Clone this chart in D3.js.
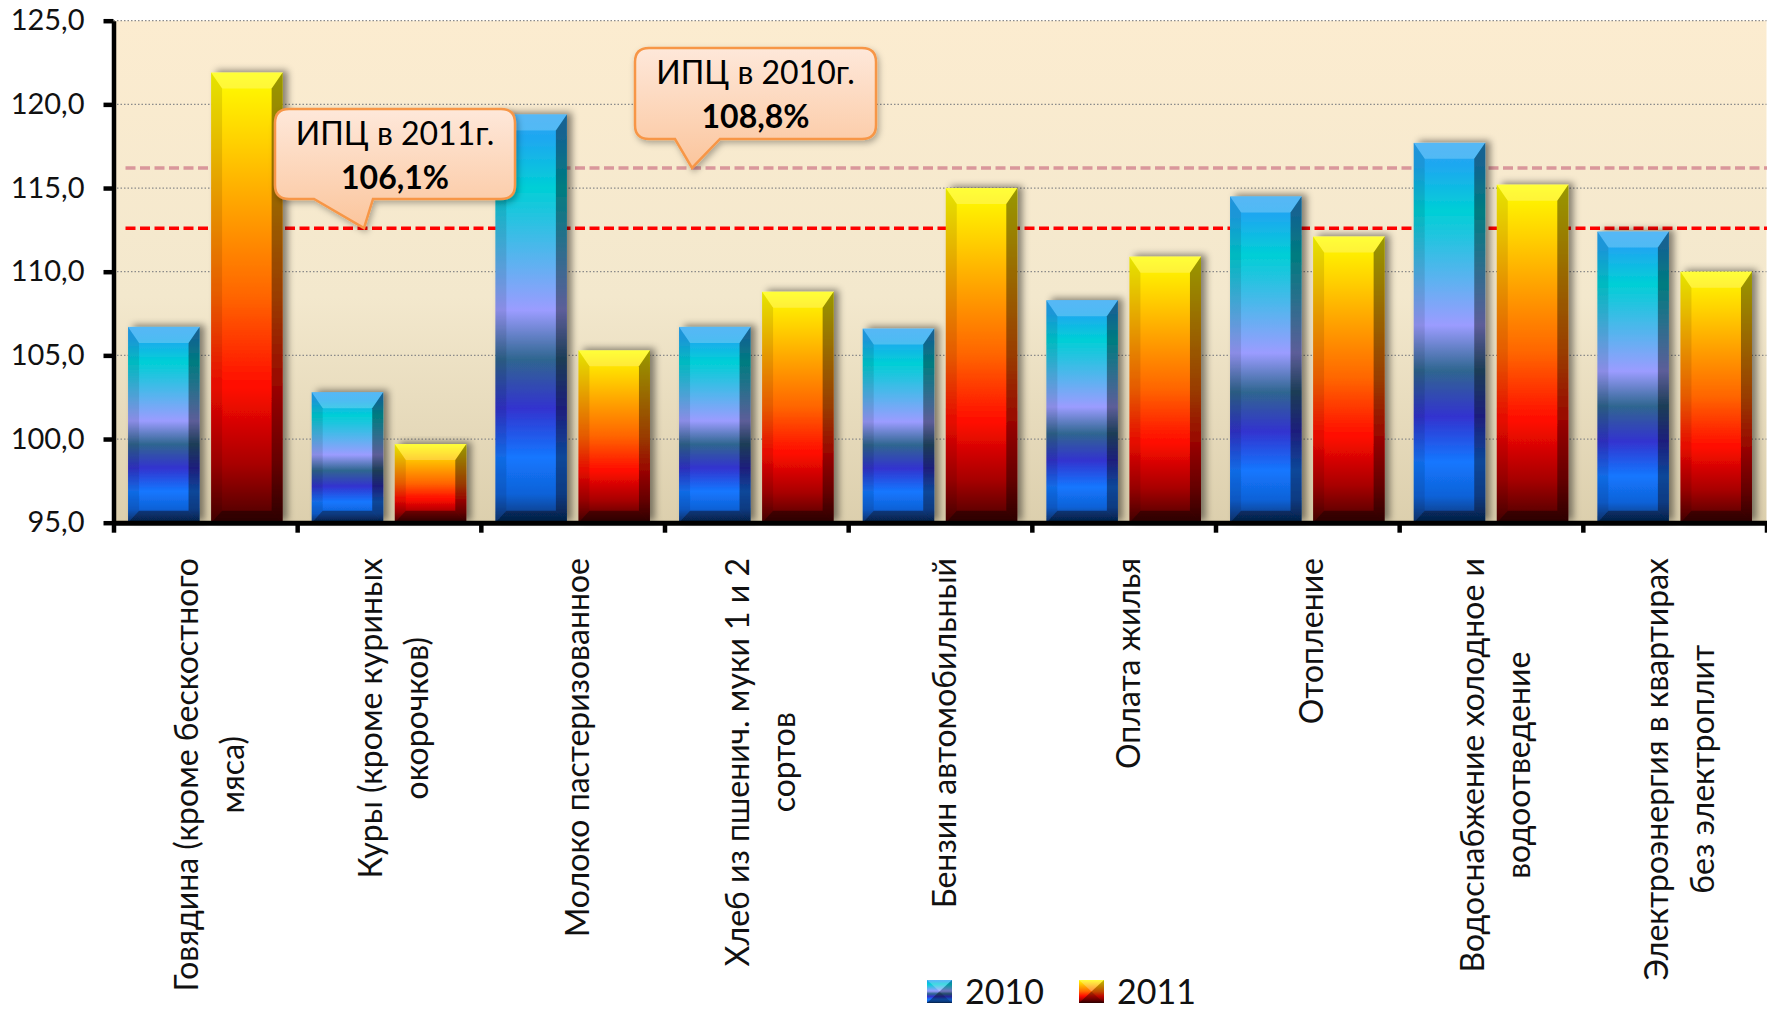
<!DOCTYPE html>
<html>
<head>
<meta charset="utf-8">
<script src="https://cdn.jsdelivr.net/npm/d3@7"></script>
<style>
  body { margin: 0; background: #fff; }
  text { font-family: Lato, "Open Sans", sans-serif; }
</style>
</head>
<body>
<div id="chart"></div>
<script>
// --- data ---
const categories = [
  ["Говядина (кроме бескостного", "мяса)"],
  ["Куры (кроме куриных", "окорочков)"],
  ["Молоко пастеризованное"],
  ["Хлеб из пшенич. муки 1 и 2", "сортов"],
  ["Бензин автомобильный"],
  ["Оплата жилья"],
  ["Отопление"],
  ["Водоснабжение холодное и", "водоотведение"],
  ["Электроэнергия в квартирах", "без электроплит"]
];
const series = ["2010", "2011"];
const values2010 = [106.7, 102.8, 119.4, 106.7, 106.6, 108.3, 114.5, 117.7, 112.4];
const values2011 = [121.9, 99.7, 105.3, 108.8, 115.0, 110.9, 112.1, 115.2, 110.0];
const yTicks = [95, 100, 105, 110, 115, 120, 125];
const refLines = [112.6, 116.2];
const calloutTitles = ["ИПЦ в 2011г.", "ИПЦ в 2010г."];
const calloutValues = ["106,1%", "108,8%"];

// --- layout ---
const width = 1767, height = 1011;
const plot = {left: 113.5, right: 1766.5, top: 20.7, bottom: 522.7};
const refColors = ["#ff0000", "#d9979b"];
const calloutBoxes = [
  {x: 275, y: 109, w: 240, h: 90, base: [314, 373], tipX: 364},
  {x: 635, y: 48, w: 241, h: 91, base: [675, 720], tipX: 692}
];
const legendX = [927, 1079];

const svg = d3.select("#chart").append("svg")
  .attr("width", width)
  .attr("height", height);

const defs = svg.append("defs");

function vGrad(id, stops) {
  const g = defs.append("linearGradient").attr("id", id)
    .attr("x1", 0).attr("y1", 0).attr("x2", 0).attr("y2", 1);
  stops.forEach(s => g.append("stop").attr("offset", s[0]).attr("stop-color", s[1]));
}
vGrad("bg", [[0, "#fcecd0"], [0.55, "#f3e8cd"], [1, "#dccfad"]]);
vGrad("g2010", [[0, "#26a4f4"], [0.06, "#1ea8f0"], [0.18, "#00cfd6"], [0.36, "#5cb2f0"],
  [0.48, "#9b9cff"], [0.6, "#2f6690"], [0.72, "#3333cf"], [0.84, "#1477ff"],
  [0.93, "#0f62d8"], [1, "#0a3470"]]);
vGrad("g2011", [[0, "#ffff00"], [0.15, "#ffd200"], [0.3, "#ffa200"], [0.5, "#ff6400"],
  [0.7, "#ff0a00"], [0.87, "#a80000"], [1, "#480000"]]);
vGrad("callout", [[0, "#fee8da"], [1, "#fbc59c"]]);

defs.append("filter").attr("id", "barShadow")
  .attr("x", "-20%").attr("y", "-10%").attr("width", "150%").attr("height", "125%")
  .append("feDropShadow")
  .attr("dx", 5).attr("dy", -2).attr("stdDeviation", 3.5)
  .attr("flood-color", "#000").attr("flood-opacity", 0.45);
defs.append("filter").attr("id", "boxShadow")
  .attr("x", "-10%").attr("y", "-10%").attr("width", "130%").attr("height", "140%")
  .append("feDropShadow")
  .attr("dx", 2).attr("dy", 3).attr("stdDeviation", 3)
  .attr("flood-color", "#000").attr("flood-opacity", 0.3);

// --- scales ---
const x0 = d3.scaleBand().domain(d3.range(categories.length))
  .range([plot.left, plot.right]).padding(0);
const x1 = d3.scaleBand().domain(series)
  .range([0, x0.bandwidth()]).paddingInner(0.139).paddingOuter(0.175);
const xEdge = d3.scaleLinear().domain([0, categories.length]).range([plot.left, plot.right]);
const y = d3.scaleLinear().domain([95, 125]).range([plot.bottom, plot.top]);

// plot background
svg.append("rect")
  .attr("x", plot.left).attr("y", plot.top)
  .attr("width", plot.right - plot.left).attr("height", plot.bottom - plot.top)
  .attr("fill", "url(#bg)");

// grid
svg.append("g").selectAll("line")
  .data(yTicks.filter(d => d > 95))
  .join("line")
  .attr("x1", plot.left).attr("x2", plot.right)
  .attr("y1", d => y(d)).attr("y2", d => y(d))
  .attr("stroke", "#8a8a8a").attr("stroke-width", 1.2)
  .attr("stroke-dasharray", "1.5,2");

// reference lines
svg.append("g").selectAll("line")
  .data(refLines)
  .join("line")
  .attr("x1", plot.left + 12).attr("x2", width)
  .attr("y1", d => y(d)).attr("y2", d => y(d))
  .attr("stroke", (d, i) => refColors[i]).attr("stroke-width", 3.5)
  .attr("stroke-dasharray", "10,4.5");

// bars
const rows = categories.map((c, i) => ({i, vals: [values2010[i], values2011[i]]}));
const bevel = 11, bevelTop = 16, bevelBot = 12;

const barG = svg.append("g").selectAll("g")
  .data(rows.flatMap(r => r.vals.map((v, k) => ({i: r.i, key: series[k], v}))))
  .join("g")
  .attr("filter", "url(#barShadow)");

barG.each(function(d) {
  const g = d3.select(this);
  const x = x0(d.i) + x1(d.key), w = x1.bandwidth();
  const yt = y(d.v), yb = y(95), h = yb - yt;
  g.append("rect").attr("x", x).attr("y", yt).attr("width", w).attr("height", h)
    .attr("fill", d.key === "2010" ? "url(#g2010)" : "url(#g2011)");
  const poly = (pts, fill, op) => g.append("polygon")
    .attr("points", pts.map(p => p.join(",")).join(" "))
    .attr("fill", fill).attr("fill-opacity", op);
  poly([[x, yt], [x + w, yt], [x + w - bevel, yt + bevelTop], [x + bevel, yt + bevelTop]], "#fff", 0.22);
  poly([[x + w, yt], [x + w, yb], [x + w - bevel, yb - bevelBot], [x + w - bevel, yt + bevelTop]], "#000", 0.4);
  poly([[x, yt], [x + bevel, yt + bevelTop], [x + bevel, yb - bevelBot], [x, yb]], "#000", 0.1);
  poly([[x, yb], [x + bevel, yb - bevelBot], [x + w - bevel, yb - bevelBot], [x + w, yb]], "#000", 0.4);
});

// y axis
const yAxis = svg.append("g")
  .attr("transform", `translate(${plot.left},0)`)
  .call(d3.axisLeft(y).tickValues(yTicks).tickSize(10).tickSizeOuter(0).tickPadding(19)
    .tickFormat(d => d3.format(".1f")(d).replace(".", ",")));
yAxis.select(".domain").attr("stroke", "#000").attr("stroke-width", 4.5);
yAxis.selectAll(".tick line").attr("stroke", "#000").attr("stroke-width", 4.5);
yAxis.selectAll(".tick text").attr("font-size", 29).attr("fill", "#111")
  .style("font-family", "Lato, sans-serif");

// x axis
const xAxis = svg.append("g")
  .attr("transform", `translate(0,${plot.bottom})`)
  .call(d3.axisBottom(xEdge).tickValues(d3.range(categories.length + 1))
    .tickSize(10).tickSizeOuter(0).tickFormat(""));
xAxis.select(".domain").attr("stroke", "#000").attr("stroke-width", 5);
xAxis.selectAll(".tick line").attr("stroke", "#000").attr("stroke-width", 4.5);

// category labels
categories.forEach((lines, i) => {
  const cx = x0(i) + x0.bandwidth() / 2;
  const g = svg.append("g").attr("transform", `translate(${cx},558) rotate(-90)`);
  const t = g.selectAll("text").data(lines).join("text")
    .attr("text-anchor", "middle")
    .attr("font-size", 32)
    .attr("fill", "#111")
    .attr("y", (d, j) => 16 + (j - (lines.length - 1) / 2) * 46)
    .text(d => d);
  const maxLen = d3.max(t.nodes(), n => n.getComputedTextLength());
  t.attr("x", -maxLen / 2);
});

// callouts
calloutBoxes.forEach((b, i) => {
  const r = 14, tipY = y(refLines[i]);
  const p = d3.path();
  p.moveTo(b.x + r, b.y);
  p.lineTo(b.x + b.w - r, b.y);
  p.quadraticCurveTo(b.x + b.w, b.y, b.x + b.w, b.y + r);
  p.lineTo(b.x + b.w, b.y + b.h - r);
  p.quadraticCurveTo(b.x + b.w, b.y + b.h, b.x + b.w - r, b.y + b.h);
  p.lineTo(b.base[1], b.y + b.h);
  p.lineTo(b.tipX, tipY);
  p.lineTo(b.base[0], b.y + b.h);
  p.lineTo(b.x + r, b.y + b.h);
  p.quadraticCurveTo(b.x, b.y + b.h, b.x, b.y + b.h - r);
  p.lineTo(b.x, b.y + r);
  p.quadraticCurveTo(b.x, b.y, b.x + r, b.y);
  p.closePath();
  const g = svg.append("g");
  g.append("path").attr("d", p.toString())
    .attr("fill", "url(#callout)").attr("stroke", "#f79646").attr("stroke-width", 2.5)
    .attr("filter", "url(#boxShadow)");
  g.append("text").attr("x", b.x + b.w / 2).attr("y", b.y + 36)
    .attr("text-anchor", "middle").attr("font-size", 32).attr("fill", "#000")
    .text(calloutTitles[i]);
  g.append("text").attr("x", b.x + b.w / 2).attr("y", b.y + 80)
    .attr("text-anchor", "middle").attr("font-size", 32).attr("font-weight", "bold").attr("fill", "#000")
    .text(calloutValues[i]);
});

// legend
const leg = svg.append("g").selectAll("g").data(series).join("g")
  .attr("transform", (d, i) => `translate(${legendX[i]},980)`);
leg.append("rect").attr("width", 25).attr("height", 23)
  .attr("fill", d => d === "2010" ? "url(#g2010)" : "url(#g2011)");
leg.append("polygon").attr("points", "0,0 25,0 12.5,11.5").attr("fill", "#fff").attr("fill-opacity", 0.25);
leg.append("polygon").attr("points", "25,0 25,23 12.5,11.5").attr("fill", "#000").attr("fill-opacity", 0.25);
leg.append("polygon").attr("points", "0,23 25,23 12.5,11.5").attr("fill", "#000").attr("fill-opacity", 0.4);
leg.append("text").attr("x", 38).attr("y", 24)
  .attr("font-size", 34).attr("fill", "#111")
  .text(d => d);
</script>
</body>
</html>
